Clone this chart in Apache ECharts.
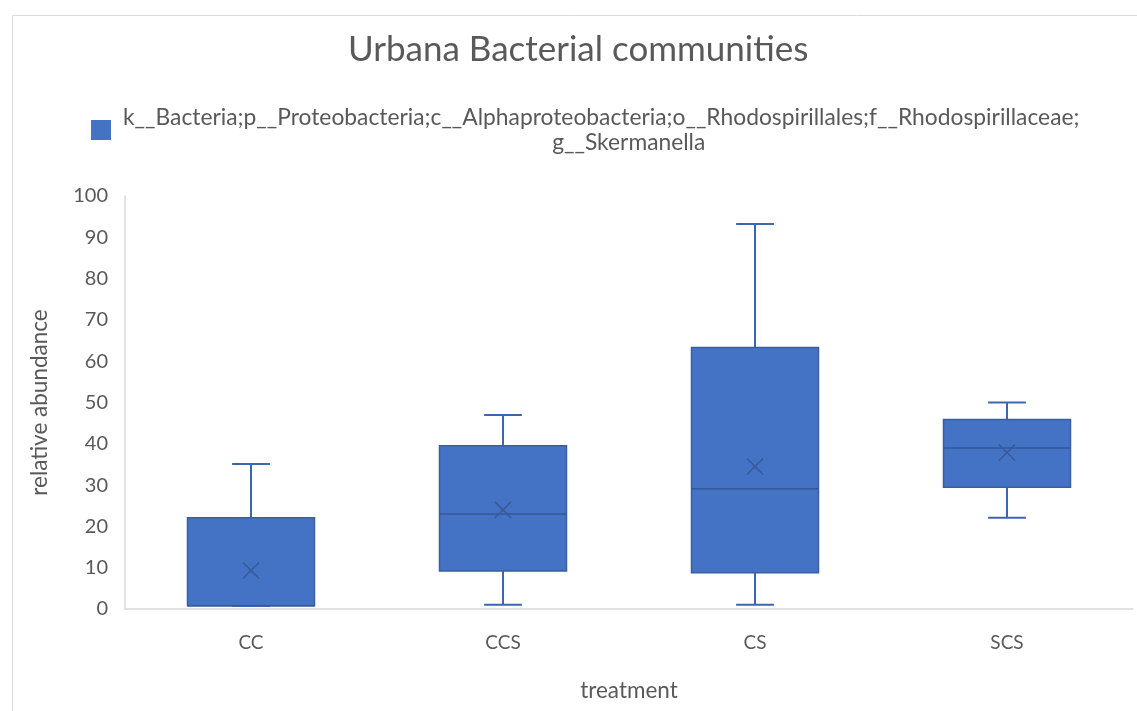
<!DOCTYPE html>
<html>
<head>
<meta charset="utf-8">
<script src="https://cdn.jsdelivr.net/npm/echarts@6/dist/echarts.min.js"></script>
<style>html,body{margin:0;padding:0;background:#fff}#c{width:1137px;height:711px}</style>
</head>
<body>
<div id="c"></div>
<script>
const categories = ['CC', 'CCS', 'CS', 'SCS'];
const mins    = [0.8, 1.0, 1.0, 22.1];
const q1s     = [0.8, 9.2, 8.8, 29.5];
const medians = [0.8, 23.0, 29.1, 39.0];
const q3s     = [22.1, 39.5, 63.3, 45.9];
const maxs    = [35.1, 47.0, 93.2, 50.0];
const means   = [9.3, 24.0, 34.5, 37.9];
const yTicks  = [0, 10, 20, 30, 40, 50, 60, 70, 80, 90, 100];
const seriesName = 'k__Bacteria;p__Proteobacteria;c__Alphaproteobacteria;o__Rhodospirillales;f__Rhodospirillaceae;g__Skermanella';

const FONT = 'Lato';
const TXT = '#595959';
const data = categories.map((c, i) => [i, mins[i], q1s[i], medians[i], q3s[i], maxs[i], means[i]]);

function renderItem(params, api) {
  const xi = api.value(0);
  const mn = api.value(1), q1 = api.value(2), md = api.value(3), q3 = api.value(4), mx = api.value(5), mean = api.value(6);
  const band = api.size([1, 0])[0];
  const bw = band * 0.504, cw = band * 0.15;
  const cx = api.coord([xi, 0])[0];
  const y = v => api.coord([xi, v])[1];
  const wStyle = { stroke: '#3d66b0', lineWidth: 2 };
  const kids = [
    { type: 'line', shape: { x1: cx, y1: y(mx), x2: cx, y2: y(q3) }, style: wStyle },
    { type: 'line', shape: { x1: cx - cw / 2, y1: y(mx), x2: cx + cw / 2, y2: y(mx) }, style: wStyle },
    { type: 'line', shape: { x1: cx, y1: y(q1), x2: cx, y2: y(mn) }, style: wStyle },
    { type: 'line', shape: { x1: cx - cw / 2, y1: y(mn), x2: cx + cw / 2, y2: y(mn) }, style: wStyle },
    { type: 'rect', shape: { x: cx - bw / 2, y: y(q3), width: bw, height: y(q1) - y(q3) },
      style: { fill: '#4472c4', stroke: '#3a5f9f', lineWidth: 1.5 } },
    { type: 'line', shape: { x1: cx - bw / 2, y1: y(md), x2: cx + bw / 2, y2: y(md) }, style: { stroke: '#34589a', lineWidth: 1.5 } }
  ];
  const ym = y(mean), s = 8;
  const xStyle = { stroke: '#3a5a96', lineWidth: 1.5 };
  kids.push({ type: 'line', shape: { x1: cx - s, y1: ym - s, x2: cx + s, y2: ym + s }, style: xStyle });
  kids.push({ type: 'line', shape: { x1: cx - s, y1: ym + s, x2: cx + s, y2: ym - s }, style: xStyle });
  return { type: 'group', children: kids };
}

const chart = echarts.init(document.getElementById('c'), null, { renderer: 'canvas' });
chart.setOption({
  animation: false,
  backgroundColor: '#fff',
  textStyle: { fontFamily: FONT },
  graphic: [{
    type: 'rect', left: 10, top: 13, shape: { width: 1140, height: 720 },
    style: { fill: 'none', stroke: '#d9d9d9', lineWidth: 1 }, silent: true, z: -1
  }],
  title: {
    text: 'Urbana Bacterial communities', left: 343, top: 27,
    textStyle: { fontFamily: FONT, fontSize: 35, fontWeight: 'normal', color: TXT }
  },
  legend: {
    left: 91, top: 105, padding: 0, icon: 'rect', itemWidth: 20, itemHeight: 20, itemGap: 10,
    data: [seriesName],
    formatter: function (name) {
      const idx = name.indexOf('g__');
      return '{a|' + name.slice(0, idx) + '}\n{b|' + name.slice(idx) + '}';
    },
    textStyle: {
      fontFamily: FONT, fontSize: 22.8, color: TXT, lineHeight: 25,
      rich: {
        a: { fontFamily: FONT, fontSize: 22.8, color: TXT, lineHeight: 25, padding: [0, 0, 0, 7] },
        b: { fontFamily: FONT, fontSize: 22.8, color: TXT, lineHeight: 25, align: 'center', padding: [0, 0, 0, 62] }
      }
    }
  },
  grid: { left: 125, right: 4, top: 196, bottom: 102, containLabel: false },
  xAxis: {
    type: 'category', data: categories,
    name: 'treatment', nameLocation: 'middle', nameGap: 70,
    nameTextStyle: { fontFamily: FONT, fontSize: 22.5, color: TXT },
    axisLine: { lineStyle: { color: '#d9d9d9', width: 1.5 } },
    axisTick: { show: false },
    axisLabel: { fontFamily: FONT, fontSize: 19, color: TXT, margin: 24 },
    splitLine: { show: false }
  },
  yAxis: {
    type: 'value', min: 0, max: 100, interval: 10,
    name: 'relative abundance', nameLocation: 'middle', nameGap: 74, nameRotate: 90,
    nameTextStyle: { fontFamily: FONT, fontSize: 22.5, color: TXT },
    axisLine: { show: true, lineStyle: { color: '#d9d9d9', width: 1.5 } },
    axisTick: { show: false },
    axisLabel: { fontFamily: FONT, fontSize: 20, color: TXT, margin: 17,
      formatter: v => yTicks.indexOf(v) >= 0 ? String(v) : '' },
    splitLine: { show: false }
  },
  series: [{
    name: seriesName, type: 'custom', renderItem: renderItem,
    itemStyle: { color: '#4472c4', borderColor: '#3a5f9f' },
    encode: { x: 0, y: [1, 2, 3, 4, 5, 6] },
    data: data
  }]
});
</script>
</body>
</html>
